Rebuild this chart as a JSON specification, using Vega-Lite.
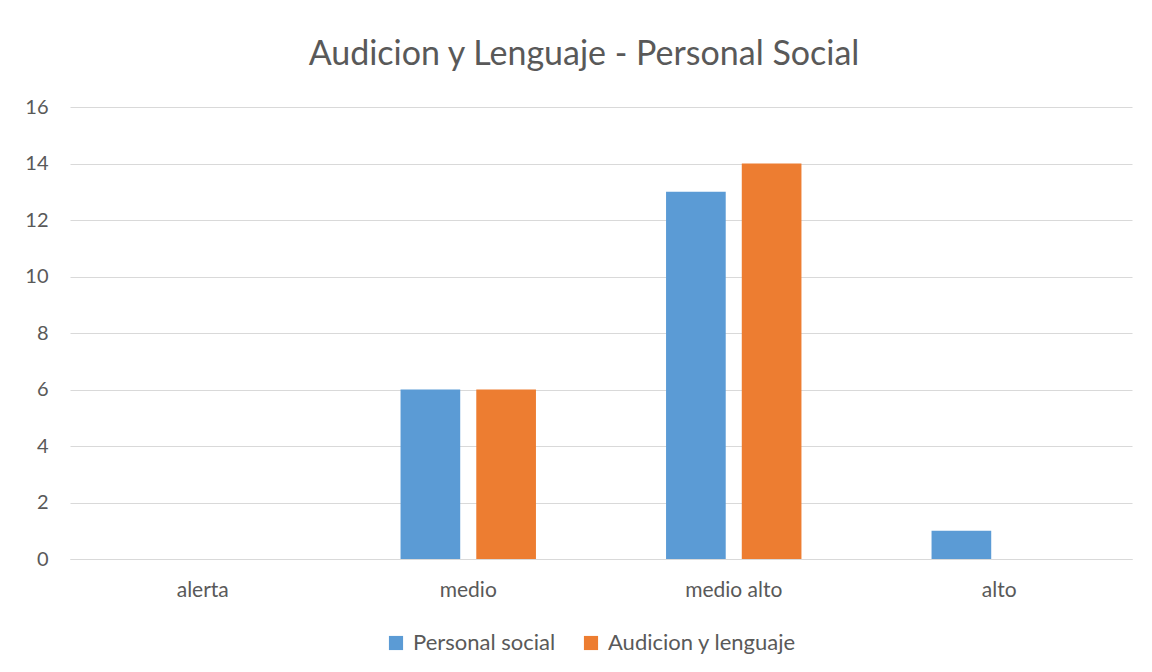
{
  "$schema": "https://vega.github.io/schema/vega-lite/v6.json",
  "width": 1062,
  "height": 452,
  "autosize": {"type": "none"},
  "padding": {"left": 70, "top": 107, "right": 20, "bottom": 113},
  "background": "white",
  "data": {"values": [
    {"cat": "alerta", "serie": "Personal social", "v": 0},
    {"cat": "alerta", "serie": "Audicion y lenguaje", "v": 0},
    {"cat": "medio", "serie": "Personal social", "v": 6},
    {"cat": "medio", "serie": "Audicion y lenguaje", "v": 6},
    {"cat": "medio alto", "serie": "Personal social", "v": 13},
    {"cat": "medio alto", "serie": "Audicion y lenguaje", "v": 14},
    {"cat": "alto", "serie": "Personal social", "v": 1},
    {"cat": "alto", "serie": "Audicion y lenguaje", "v": 0}
  ]},
  "title": {
    "text": "Audicion y Lenguaje - Personal Social",
    "font": "Lato",
    "fontSize": 34,
    "fontWeight": "normal",
    "color": "#595959",
    "anchor": "middle",
    "frame": "group",
    "offset": 25,
    "dx": -17
  },
  "mark": {"type": "bar"},
  "encoding": {
    "x": {
      "field": "cat", "type": "nominal",
      "sort": ["alerta", "medio", "medio alto", "alto"],
      "scale": {"paddingInner": 0.49, "paddingOuter": 0.245},
      "axis": {"title": null, "labelAngle": 0, "labelFont": "Lato", "labelFontSize": 21, "labelColor": "#595959", "labelPadding": 20, "ticks": false, "domainColor": "#d9d9d9", "domainWidth": 1}
    },
    "xOffset": {
      "field": "serie", "type": "nominal",
      "sort": ["Personal social", "Audicion y lenguaje"],
      "scale": {"paddingInner": 0.212, "paddingOuter": 0}
    },
    "y": {
      "field": "v", "type": "quantitative",
      "scale": {"domain": [0, 16]},
      "axis": {"title": null, "values": [0,2,4,6,8,10,12,14,16], "labelOverlap": false, "labelFont": "Lato", "labelFontSize": 20, "labelColor": "#595959", "labelPadding": 22, "ticks": false, "domain": false, "gridColor": "#d9d9d9", "gridWidth": 1}
    },
    "color": {
      "field": "serie", "type": "nominal",
      "sort": ["Personal social", "Audicion y lenguaje"],
      "scale": {"domain": ["Personal social", "Audicion y lenguaje"], "range": ["#5B9BD5", "#ED7D31"]},
      "legend": {"title": null, "orient": "none", "legendX": 315, "legendY": 525, "direction": "horizontal", "symbolType": "square", "symbolSize": 200, "symbolStrokeWidth": 0, "labelFont": "Lato", "labelFontSize": 22, "labelLimit": 400, "labelColor": "#595959", "labelOffset": 6, "columnPadding": 24}
    }
  },
  "config": {"view": {"stroke": null}}
}
